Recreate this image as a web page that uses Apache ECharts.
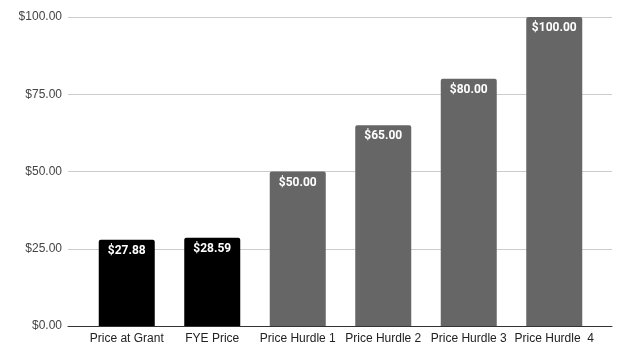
<!DOCTYPE html>
<html><head><meta charset="utf-8">
<script src="https://cdn.jsdelivr.net/npm/echarts@6/dist/echarts.min.js"></script>
<style>html,body{margin:0;padding:0;background:#fff}#c{width:624px;height:355px}</style>
</head><body><div id="c"></div>
<script>
const categories = ["Price at Grant", "FYE Price", "Price Hurdle 1", "Price Hurdle 2", "Price Hurdle 3", "Price Hurdle  4"];
const values = [27.88, 28.59, 50, 65, 80, 100];
const barColors = ["#000000", "#000000", "#666666", "#666666", "#666666", "#666666"];

const chart = echarts.init(document.getElementById('c'));
const fmt = v => '$' + Number(v).toFixed(2);
chart.setOption({
  animation: false,
  grid: [
    {left: 68, right: 12, top: 17, bottom: 29},
    {left: 84, right: 27, top: 17, bottom: 29}
  ],
  xAxis: [
    {gridIndex: 0, type: 'value', min: 0, max: 1, show: true,
     axisLine: {show: true, lineStyle: {color: '#333', width: 1}},
     axisTick: {show: false}, axisLabel: {show: false}, splitLine: {show: false}},
    {gridIndex: 1, type: 'category', data: categories,
     axisLine: {show: false}, axisTick: {show: false},
     axisLabel: {color: '#222', fontFamily: 'Liberation Sans, Arial', fontSize: 12, margin: 7, interval: 0}}
  ],
  yAxis: [
    {gridIndex: 0, type: 'value', min: 0, max: 100, interval: 25,
     axisLine: {show: false}, axisTick: {show: false},
     axisLabel: {formatter: fmt, color: '#444', fontFamily: 'Liberation Sans, Arial', fontSize: 12, margin: 6},
     splitLine: {lineStyle: {color: '#cccccc', width: 1}}},
    {gridIndex: 1, type: 'value', min: 0, max: 100, interval: 25, show: false, splitLine: {show: false}}
  ],
  series: [{
    type: 'bar', xAxisIndex: 1, yAxisIndex: 1,
    data: values.map((v, i) => ({value: v, itemStyle: {color: barColors[i]}})),
    barWidth: 56,
    itemStyle: {borderRadius: [2, 2, 0, 0]},
    label: {show: true, position: 'insideTop', distance: 5, formatter: p => fmt(p.value),
      color: '#fff', fontWeight: 'bold', fontFamily: 'Roboto, Arial', fontSize: 12}
  }]
});
</script></body></html>
